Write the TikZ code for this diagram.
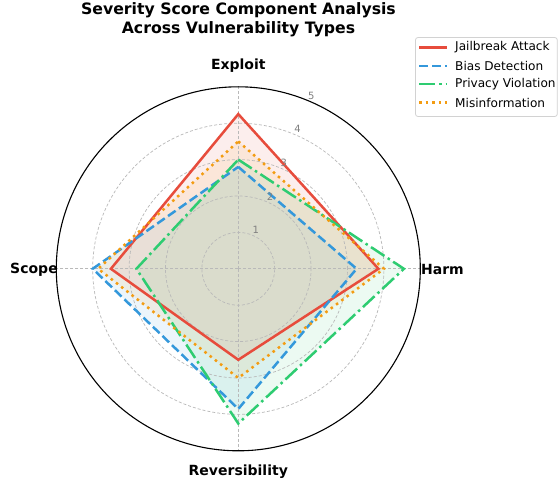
\documentclass[tikz,border=0pt]{standalone}
\usepackage{fontspec}
\setmainfont{DejaVu Sans}
\begin{document}
\begin{tikzpicture}[x=1pt,y=-1pt,
  gridline/.style={draw=gray!55, line width=0.7pt, dash pattern=on 3pt off 2pt},
  spine/.style={draw=black, line width=1.1pt},
  axlabel/.style={font=\fontsize{14}{16}\selectfont\bfseries, text=black},
  ticklab/.style={font=\fontsize{10}{11}\selectfont, text=gray, inner sep=0pt},
  legtext/.style={font=\fontsize{12.1}{14}\selectfont, anchor=west, inner sep=0pt},
  sJ/.style={draw=jred, line width=2.5pt, line join=miter},
  sB/.style={draw=jblue, line width=2.5pt, dash pattern=on 9.2pt off 4pt},
  sP/.style={draw=jgreen, line width=2.5pt, dash pattern=on 16pt off 4pt on 2.5pt off 4pt},
  sM/.style={draw=jorange, line width=2.5pt, dash pattern=on 2.5pt off 4.1pt},
  ]
\definecolor{jred}{HTML}{E74C3C}
\definecolor{jblue}{HTML}{3498DB}
\definecolor{jgreen}{HTML}{2ECC71}
\definecolor{jorange}{HTML}{F39C12}
\useasboundingbox (0,0) rectangle (558,487);
\fill[white] (0,0) rectangle (558,487);
\coordinate (C) at (238.3,268.8);
% series path macro
\newcommand{\seriespath}[4]{(238.3,{268.8-36.4*#1}) -- ({238.3+36.4*#2},268.8) -- (238.3,{268.8+36.4*#3}) -- ({238.3-36.4*#4},268.8) -- cycle}
% fills
\fill[jred, fill opacity=0.09] \seriespath{4.25}{3.85}{2.5}{3.5};
\fill[jblue, fill opacity=0.09] \seriespath{2.8}{3.25}{3.85}{4.0};
\fill[jgreen, fill opacity=0.09] \seriespath{3.0}{4.55}{4.25}{2.8};
\fill[jorange, fill opacity=0.09] \seriespath{3.5}{4.0}{3.0}{3.85};
% grid circles
\foreach \r in {1,2,3,4}{
  \draw[gridline] (C) circle[radius={36.4*\r*1pt}];
}
\draw[gridline] (C) -- (238.3,{268.8-182});
\draw[gridline] (C) -- (238.3,{268.8+182});
\draw[gridline] (C) -- ({238.3+182},268.8);
\draw[gridline] (C) -- ({238.3-182},268.8);
% lines
\draw[sJ] \seriespath{4.25}{3.85}{2.5}{3.5};
\draw[sB] \seriespath{2.8}{3.25}{3.85}{4.0};
\draw[sP] \seriespath{3.0}{4.55}{4.25}{2.8};
\draw[sM] \seriespath{3.5}{4.0}{3.0}{3.85};
% outer spine
\draw[spine] (C) circle[radius=182pt];
% tick labels
\node[ticklab] (t1) at (255.7,229.5) {1};
\node[ticklab] (t2) at (270.0,196.5) {2};
\node[ticklab] (t3) at (283.8,162.5) {3};
\node[ticklab] (t4) at (297.6,128.5) {4};
\node[ticklab] (t5) at (311.4,95.5) {5};
% axis labels
\node[axlabel] (lE) at (238.3,65.5) {Exploit};
\node[axlabel] (lH) at (442.5,269.5) {Harm};
\node[axlabel] (lR) at (238.3,471.5) {Reversibility};
\node[axlabel] (lS) at (34,269.5) {Scope};
% title
\node[font=\fontsize{15.7}{18.5}\selectfont\bfseries, align=center] (title) at (238.5,19.5) {Severity Score Component Analysis\\Across Vulnerability Types};
% legend
\draw[draw=gray!35, fill=white, fill opacity=0.85, rounded corners=2.5pt, line width=0.8pt] (415.5,37.5) rectangle (557.3,116.5);
\coordinate (a1) at (419,47.5); \coordinate (b1) at (447,47.5);
\coordinate (a2) at (419,65.8); \coordinate (b2) at (447,65.8);
\coordinate (a3) at (419,84.2); \coordinate (b3) at (447,84.2);
\coordinate (a4) at (419,102.6); \coordinate (b4) at (447,102.6);
\draw[sJ] (a1) -- (b1);
\draw[sB] (a2) -- (b2);
\draw[sP] (a3) -- (b3);
\draw[sM] (a4) -- (b4);
\node[legtext] (g1) at (455,47.5) {Jailbreak Attack};
\node[legtext] (g2) at (455,65.8) {Bias Detection};
\node[legtext] (g3) at (455,84.2) {Privacy Violation};
\node[legtext] (g4) at (455,102.6) {Misinformation};
\end{tikzpicture}
\end{document}
